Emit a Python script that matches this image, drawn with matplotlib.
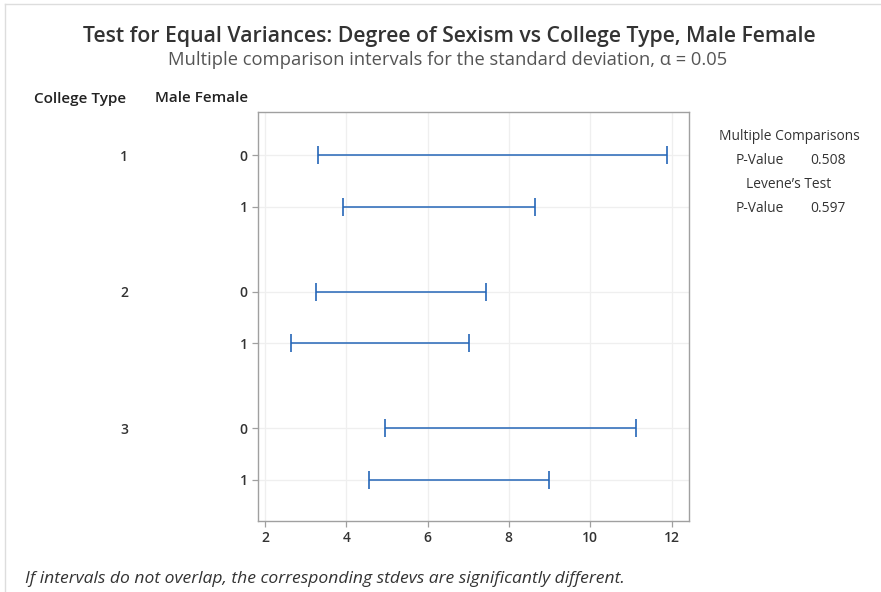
import matplotlib.pyplot as plt
import numpy as np
from matplotlib.lines import Line2D

plt.rcParams['font.family'] = ['Open Sans', 'DejaVu Sans']

# data
college = ['1', '1', '2', '2', '3', '3']
gender = ['0', '1', '0', '1', '0', '1']
lower = [3.30, 3.92, 3.25, 2.64, 4.95, 4.55]
upper = [11.88, 8.64, 7.43, 7.01, 11.12, 8.98]
xticks = [2, 4, 6, 8, 10, 12]
mc_pvalue = '0.508'
levene_pvalue = '0.597'

blue = '#2566b8'
dark = '#333333'

fig = plt.figure(figsize=(8.81, 5.92), dpi=100)
ax = fig.add_axes([258 / 881, 1 - 521 / 592, (689 - 258) / 881, (521 - 112) / 592])

# row positions: groups separated by a gap
pos = []
y = 0.0
for i, c in enumerate(college):
    if i > 0:
        y += 1.0 if c == college[i - 1] else 1.63
    pos.append(y)
pos = np.array(pos)

lo = np.array(lower)
hi = np.array(upper)
mid = (lo + hi) / 2
ax.errorbar(mid, pos, xerr=(hi - lo) / 2, fmt='none', ecolor=blue,
            elinewidth=1.1, capsize=6.8, capthick=1.2)

ax.set_xlim(1.83, 12.43)
ax.set_ylim(pos[-1] + 0.79, -0.83)
ax.set_xticks(xticks)
ax.set_xticklabels([str(t) for t in xticks])
ax.set_yticks(pos)
ax.set_yticklabels(gender)
ax.grid(True, color='#efefef', linewidth=0.9)
ax.set_axisbelow(True)
for s in ax.spines.values():
    s.set_color('#a0a0a0')
    s.set_linewidth(1.0)
ax.tick_params(colors='#a0a0a0', labelcolor=dark, length=4, width=0.9,
               labelsize=10)
for lab in ax.get_xticklabels() + ax.get_yticklabels():
    lab.set_fontweight('semibold')

# group labels (College Type)
seen = set()
for c, p in zip(college, pos):
    if c not in seen:
        seen.add(c)
        ax.text(-0.311, p, c, transform=ax.get_yaxis_transform(), ha='center',
                va='center_baseline', fontsize=10, fontweight='semibold', color=dark)

vb = 'center_baseline'
fig.text(80 / 881, 1 - 97 / 592, 'College Type', ha='center', va=vb,
         fontsize=11, fontweight='semibold', color='#222222')
fig.text(202 / 881, 1 - 97 / 592, 'Male Female', ha='center', va=vb,
         fontsize=11, fontweight='semibold', color='#222222')

fig.text(449 / 881, 1 - 34 / 592,
         'Test for Equal Variances: Degree of Sexism vs College Type, Male Female',
         ha='center', va=vb, fontsize=15.3, fontweight='semibold', color=dark)
fig.text(448 / 881, 1 - 58 / 592,
         'Multiple comparison intervals for the standard deviation, \u03b1 = 0.05',
         ha='center', va=vb, fontsize=13.2, color='#555555')

# right-hand results panel
fig.text(789 / 881, 1 - 135 / 592, 'Multiple Comparisons', ha='center',
         va=vb, fontsize=9.9, color=dark)
fig.text(760 / 881, 1 - 158 / 592, 'P-Value', ha='center', va=vb,
         fontsize=9.9, color=dark)
fig.text(828 / 881, 1 - 158 / 592, mc_pvalue, ha='center', va=vb,
         fontsize=9.9, color=dark)
fig.text(789 / 881, 1 - 182 / 592, 'Levene\u2019s Test', ha='center',
         va=vb, fontsize=9.9, color=dark)
fig.text(760 / 881, 1 - 207 / 592, 'P-Value', ha='center', va=vb,
         fontsize=9.9, color=dark)
fig.text(828 / 881, 1 - 207 / 592, levene_pvalue, ha='center', va=vb,
         fontsize=9.9, color=dark)

fig.text(25 / 881, 1 - 577 / 592,
         'If intervals do not overlap, the corresponding stdevs are significantly different.',
         ha='left', va=vb, fontsize=12.6, style='italic', color=dark)

# light frame at top and left edge
fig.add_artist(Line2D([5 / 881, 1], [1 - 4 / 592, 1 - 4 / 592],
                      transform=fig.transFigure, color='#dddddd', linewidth=1))
fig.add_artist(Line2D([5 / 881, 5 / 881], [0, 1 - 4 / 592],
                      transform=fig.transFigure, color='#dddddd', linewidth=1))

fig.savefig('out.png', dpi=100)
